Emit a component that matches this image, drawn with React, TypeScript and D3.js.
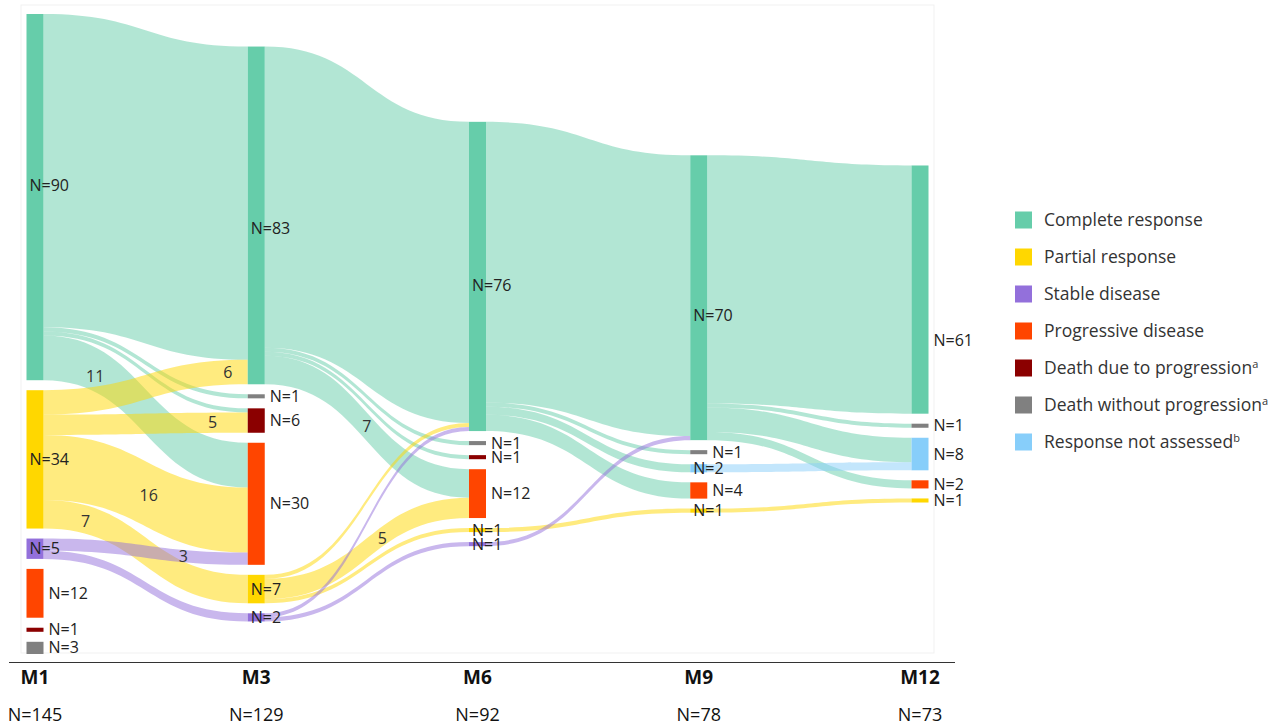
import * as d3 from "d3";

const timepoints = ["M1", "M3", "M6", "M9", "M12"];
const patientsAtTimepoint = [145, 129, 92, 78, 73];

const statusKeys = ["CR", "PR", "SD", "PD", "DP", "DNP", "NA"];
const statusNames = [
  "Complete response",
  "Partial response",
  "Stable disease",
  "Progressive disease",
  "Death due to progression",
  "Death without progression",
  "Response not assessed",
];
const statusNotes = ["", "", "", "", "a", "a", "b"];
const statusColors = ["#66CDAA", "#FFD700", "#9370DB", "#FF4500", "#8B0000", "#808080", "#87CEFA"];

// nodes of each timepoint, in stacking order: [status, patients]
const nodesM1: [string, number][] = [["CR", 90], ["PR", 34], ["SD", 5], ["PD", 12], ["DP", 1], ["DNP", 3]];
const nodesM3: [string, number][] = [["CR", 83], ["DNP", 1], ["DP", 6], ["PD", 30], ["PR", 7], ["SD", 2]];
const nodesM6: [string, number][] = [["CR", 76], ["DNP", 1], ["DP", 1], ["PD", 12], ["PR", 1], ["SD", 1]];
const nodesM9: [string, number][] = [["CR", 70], ["DNP", 1], ["NA", 2], ["PD", 4], ["PR", 1]];
const nodesM12: [string, number][] = [["CR", 61], ["DNP", 1], ["NA", 8], ["PD", 2], ["PR", 1]];

// flows between consecutive timepoints: [from, to, patients]
const flowsM1toM3: [string, string, number][] = [
  ["CR", "CR", 77], ["CR", "DNP", 1], ["CR", "DP", 1], ["CR", "PD", 11],
  ["PR", "CR", 6], ["PR", "DP", 5], ["PR", "PD", 16], ["PR", "PR", 7],
  ["SD", "PD", 3], ["SD", "SD", 2],
];
const flowsM3toM6: [string, string, number][] = [
  ["CR", "CR", 74], ["CR", "DNP", 1], ["CR", "DP", 1], ["CR", "PD", 7],
  ["PR", "CR", 1], ["PR", "PD", 5], ["PR", "PR", 1],
  ["SD", "CR", 1], ["SD", "SD", 1],
];
const flowsM6toM9: [string, string, number][] = [
  ["CR", "CR", 69], ["CR", "DNP", 1], ["CR", "NA", 2], ["CR", "PD", 4],
  ["PR", "PR", 1], ["SD", "CR", 1],
];
const flowsM9toM12: [string, string, number][] = [
  ["CR", "CR", 61], ["CR", "DNP", 1], ["CR", "NA", 6], ["CR", "PD", 2],
  ["NA", "NA", 2], ["PR", "PR", 1],
];

// flows that carry a count label: [transition, from, to]
const labelledFlows: [number, string, string][] = [
  [0, "CR", "PD"], [0, "PR", "CR"], [0, "PR", "DP"], [0, "PR", "PD"], [0, "PR", "PR"], [0, "SD", "PD"],
  [1, "CR", "PD"], [1, "PR", "PD"],
];

const columns = [nodesM1, nodesM3, nodesM6, nodesM9, nodesM12];
const transitions = [flowsM1toM3, flowsM3toM6, flowsM6toM9, flowsM9toM12];

const W = 1288;
const H = 727;
const FONT = "'Open Sans', 'Segoe UI', sans-serif";

export default function App() {
  const barW = 17;
  const gap = 10;
  const plotTop = 14;
  const plotBottom = 654;
  const midY = (plotTop + plotBottom) / 2;

  // where along a flow its count sits (bezier t, vertical nudge)
  const labelAt: Record<string, [number, number]> = {
    "0:CR>PD": [0.205, 7],
    "0:PR>CR": [0.93, 0],
    "0:PR>DP": [0.87, 0],
    "0:PR>PD": [0.52, 0],
    "0:PR>PR": [0.16, 2],
    "0:SD>PD": [0.73, 0],
    "1:CR>PD": [0.5, 0],
    "1:PR>PD": [0.6, 2],
  };
  // hand-placed offsets of the big "complete response" labels
  const crLabelNudge = [-12, 13, 9, 18, 51];

  const x = d3.scalePoint<string>().domain(timepoints).range([35, 920]);
  const maxCount = d3.max(columns, (c) => c.length) as number;
  const maxTotal = d3.max(columns, (c) => d3.sum(c, (d) => d[1])) as number;
  const h = d3
    .scaleLinear()
    .domain([0, maxTotal])
    .range([0, plotBottom - plotTop - gap * (maxCount - 1)]);
  const color = d3.scaleOrdinal<string, string>().domain(statusKeys).range(statusColors);

  // node layout
  const layout = columns.map((col, ci) => {
    const total = h(d3.sum(col, (d) => d[1])) + gap * (col.length - 1);
    let y = midY - total / 2;
    return col.map(([key, n], ni) => {
      const node = {
        key,
        n,
        ci,
        ni,
        x0: (x(timepoints[ci]) as number) - barW / 2,
        x1: (x(timepoints[ci]) as number) + barW / 2,
        y0: y,
        y1: y + h(n),
        outY: y,
        inY: y,
        hasOut: ci < transitions.length && transitions[ci].some((f) => f[0] === key),
      };
      y += h(n) + gap;
      return node;
    });
  });

  // link layout
  const links: any[] = [];
  transitions.forEach((flows, ti) => {
    const src = layout[ti];
    const tgt = layout[ti + 1];
    const items = flows.map(([from, to, n]) => ({
      from,
      to,
      n,
      ti,
      s: src.find((d) => d.key === from)!,
      t: tgt.find((d) => d.key === to)!,
      sy0: 0,
      ty0: 0,
    }));
    src.forEach((node) => {
      items
        .filter((l) => l.s === node)
        .sort((a, b) => a.t.ni - b.t.ni)
        .forEach((l) => {
          l.sy0 = node.outY;
          node.outY += h(l.n);
        });
    });
    tgt.forEach((node) => {
      items
        .filter((l) => l.t === node)
        .sort((a, b) => a.s.ni - b.s.ni)
        .forEach((l) => {
          l.ty0 = node.inY;
          node.inY += h(l.n);
        });
    });
    links.push(...items);
  });

  const bandPath = (l: any) => {
    const x0 = l.s.x1;
    const x1 = l.t.x0;
    const xm = (x0 + x1) / 2;
    const w = h(l.n);
    const p = d3.path();
    p.moveTo(x0, l.sy0);
    p.bezierCurveTo(xm, l.sy0, xm, l.ty0, x1, l.ty0);
    p.lineTo(x1, l.ty0 + w);
    p.bezierCurveTo(xm, l.ty0 + w, xm, l.sy0 + w, x0, l.sy0 + w);
    p.closePath();
    return p.toString();
  };

  const pointOn = (l: any, t: number) => {
    const x0 = l.s.x1;
    const x1 = l.t.x0;
    const xm = (x0 + x1) / 2;
    const w = h(l.n);
    const y0 = l.sy0 + w / 2;
    const y1 = l.ty0 + w / 2;
    const px = (1 - t) ** 3 * x0 + 3 * (1 - t) ** 2 * t * xm + 3 * (1 - t) * t * t * xm + t ** 3 * x1;
    const py = y0 + (y1 - y0) * (3 * t * t - 2 * t ** 3);
    return [px, py];
  };

  const allNodes = layout.flat();

  return (
    <div style={{ position: "fixed", inset: 0, background: "#fff" }}>
      <svg width={W} height={H} style={{ display: "block" }} fontFamily={FONT}>
        <rect x={21} y={5} width={913} height={648} fill="none" stroke="#f1f1f1" />

        {/* bands */}
        <g>
          {links.map((l, i) => (
            <path key={i} d={bandPath(l)} fill={color(l.from)} fillOpacity={0.5} />
          ))}
        </g>

        {/* nodes */}
        <g>
          {allNodes.map((d) => (
            <rect
              key={`${d.ci}-${d.key}`}
              x={d.x0}
              y={d.y0}
              width={d.x1 - d.x0}
              height={Math.max(d.y1 - d.y0, 1)}
              fill={color(d.key)}
            />
          ))}
        </g>

        {/* flow counts */}
        <g fontSize={16} fill="#333" textAnchor="middle">
          {labelledFlows.map(([ti, from, to]) => {
            const l = links.find((d) => d.ti === ti && d.from === from && d.to === to);
            const [t, dy] = labelAt[`${ti}:${from}>${to}`];
            const [px, py] = pointOn(l, t);
            return (
              <text key={`${ti}${from}${to}`} x={px} y={py + dy} dy="0.35em">
                {l.n}
              </text>
            );
          })}
        </g>

        {/* node labels */}
        <g fontSize={16} fill="#222">
          {allNodes.map((d) => (
            <text
              key={`l${d.ci}-${d.key}`}
              x={d.hasOut ? d.x0 + 3 : d.x1 + 5}
              y={(d.y0 + d.y1) / 2 + (d.key === "CR" ? crLabelNudge[d.ci] : 0)}
              dy="0.35em"
            >
              {`N=${d.n}`}
            </text>
          ))}
        </g>

        {/* timepoint axis */}
        <line x1={9} x2={955} y1={662.5} y2={662.5} stroke="#333" strokeWidth={1} />
        <g textAnchor="middle" fill="#111">
          {timepoints.map((tp, i) => (
            <g key={tp}>
              <text x={x(tp)} y={677} dy="0.35em" fontSize={19} fontWeight="bold">
                {tp}
              </text>
              <text x={x(tp)} y={715} dy="0.35em" fontSize={18}>
                {`N=${patientsAtTimepoint[i]}`}
              </text>
            </g>
          ))}
        </g>

        {/* legend */}
        <g>
          {statusKeys.map((k, i) => (
            <g key={k} transform={`translate(1015, ${220 + i * 37})`}>
              <rect x={0} y={-8.5} width={17} height={17} fill={statusColors[i]} />
              <text x={29} y={0} dy="0.35em" fontSize={17.5} fill="#333">
                {statusNames[i]}
                {statusNotes[i] && (
                  <tspan fontSize={11} dy="-0.55em">
                    {statusNotes[i]}
                  </tspan>
                )}
              </text>
            </g>
          ))}
        </g>
      </svg>
    </div>
  );
}
